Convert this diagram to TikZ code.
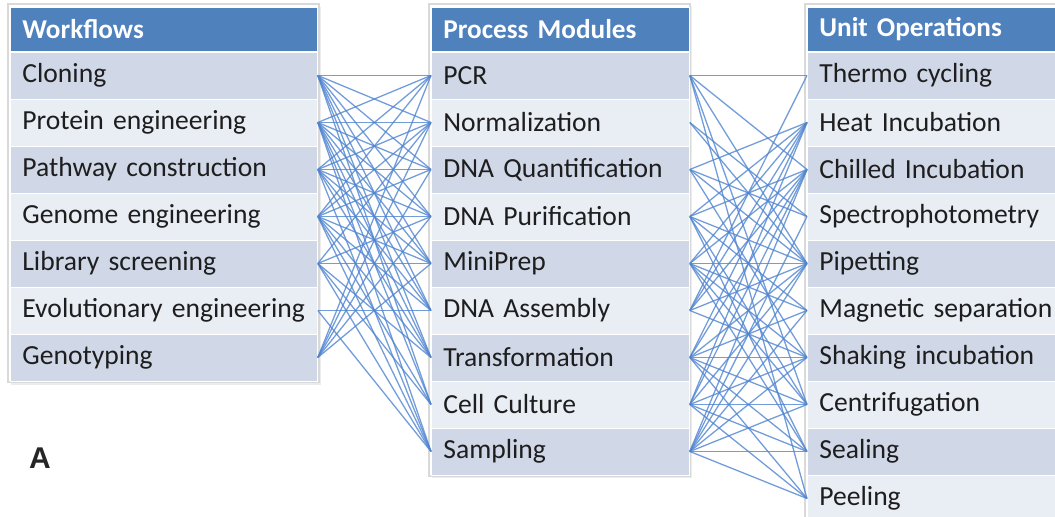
\documentclass[tikz,border=0pt]{standalone}
\usepackage{fontspec}
\setmainfont{Carlito}
\newfontfamily\labelfont{Liberation Sans}
\usetikzlibrary{positioning}
\definecolor{kopf}{HTML}{4F81BD}
\definecolor{bandA}{HTML}{D0D8E8}
\definecolor{bandB}{HTML}{E9EDF4}
\definecolor{linie}{HTML}{4F84D0}
\definecolor{schrift}{HTML}{1E1E1E}

\begin{document}
\begin{tikzpicture}[x=0.5pt,y=-0.5pt,
    rowcell/.style={anchor=west,minimum height=23.5pt,inner xsep=6pt,inner ysep=0pt,
      text width=#1,align=left,font=\fontsize{13.8}{15}\selectfont,text=schrift,
      draw=white,line width=0.4pt},
    headcell/.style={rowcell=#1,minimum height=22pt,fill=kopf,text=white,
      font=\fontsize{13.6}{15}\selectfont\bfseries},
    tabframe/.style={draw=gray!30,fill=white,line width=0.6pt},
    link/.style={linie,line width=0.65pt,opacity=0.8}]
  \useasboundingbox (0,0) rectangle (1055,517);
  % table frames with a faint shadow
  \fill[gray!15] (11,7) rectangle (321,385);
  \draw[tabframe] (8,4) rectangle (319,382);
  \fill[gray!15] (432,7) rectangle (692,478);
  \draw[tabframe] (429,4) rectangle (690,476);
  \draw[tabframe] (805,4) rectangle (1090,530);
  % headers
  \node[headcell=141.5pt] (wh) at (10,29) {Workflows};
  \node[headcell=117pt] (mh) at (431,29) {Process Modules};
  \node[headcell=128pt] (uh) at (807,29) {Unit Operations};
  % rows
  \foreach \t [count=\i] in {Cloning,Protein engineering,Pathway construction,
      Genome engineering,Library screening,Evolutionary engineering,Genotyping}{
    \ifodd\i\def\bnd{bandA}\else\def\bnd{bandB}\fi
    \node[rowcell=141.5pt,fill=\bnd] (w\i) at (10,{75.5+47*(\i-1)}) {\t};
  }
  \foreach \t [count=\i] in {PCR,Normalization,DNA Quantification,DNA Purification,
      MiniPrep,DNA Assembly,Transformation,Cell Culture,Sampling}{
    \ifodd\i\def\bnd{bandA}\else\def\bnd{bandB}\fi
    \node[rowcell=117pt,fill=\bnd] (m\i) at (431,{75.5+47*(\i-1)}) {\t};
  }
  \foreach \t [count=\i] in {Thermo cycling,Heat Incubation,Chilled Incubation,
      Spectrophotometry,Pipetting,Magnetic separation,Shaking incubation,
      Centrifugation,Sealing,Peeling}{
    \ifodd\i\def\bnd{bandA}\else\def\bnd{bandB}\fi
    \node[rowcell=128pt,fill=\bnd] (u\i) at (807,{75.5+47*(\i-1)}) {\t};
  }
  % workflows -> process modules
  \foreach \a/\b in {1/1,1/2,1/3,1/4,1/5,1/6,1/7,1/8,
      2/1,2/2,2/3,2/4,2/5,2/6,2/7,2/8,2/9,
      3/1,3/2,3/3,3/4,3/5,3/6,3/7,3/9,
      4/1,4/2,4/3,4/4,4/5,4/6,4/7,4/8,4/9,
      5/2,5/4,5/5,5/7,5/8,5/9,
      6/6,6/9,
      7/1,7/2,7/3,7/4,7/5}
    \draw[link] (w\a.east) -- (m\b.west);
  % process modules -> unit operations
  \foreach \a/\b in {1/1,1/3,1/5,1/8,1/10,
      2/4,2/5,
      3/2,3/4,3/5,3/7,
      4/2,4/3,4/5,4/6,4/8,4/9,
      5/2,5/3,5/5,5/6,5/7,5/8,5/9,
      6/1,6/2,6/3,6/5,6/7,
      7/2,7/3,7/5,7/6,7/7,7/8,7/9,7/10,
      8/2,8/3,8/5,8/7,8/8,8/9,8/10,
      9/3,9/4,9/5,9/6,9/7,9/8,9/9,9/10}
    \draw[link] (m\a.east) -- (u\b.west);
  \node[font=\labelfont\bfseries\fontsize{15}{18}\selectfont,text=black!85] (lblA) at (40,458) {A};
\end{tikzpicture}
\end{document}
